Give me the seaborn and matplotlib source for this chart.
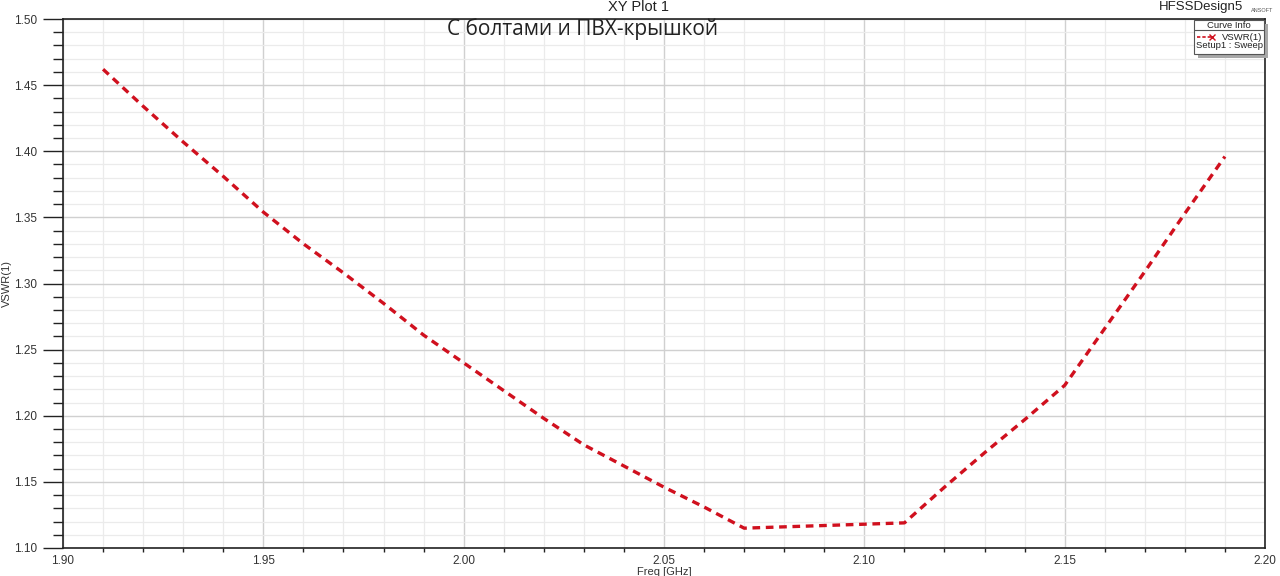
import numpy as np
import pandas as pd
import matplotlib
matplotlib.use("Agg")
import matplotlib.pyplot as plt
from matplotlib.ticker import MultipleLocator, FormatStrFormatter
from matplotlib.patches import Rectangle
from matplotlib.lines import Line2D
import seaborn as sns

# data
freq_ghz = [1.91, 1.92, 1.93, 1.94, 1.95, 1.96, 1.97, 1.98, 1.99, 2.00,
            2.01, 2.02, 2.03, 2.04, 2.05, 2.06, 2.07, 2.08, 2.09, 2.10,
            2.11, 2.12, 2.13, 2.14, 2.15, 2.16, 2.17, 2.18, 2.19]
vswr = [1.462, 1.434, 1.407, 1.381, 1.354, 1.330, 1.308, 1.285, 1.261, 1.240,
        1.219, 1.198, 1.178, 1.162, 1.146, 1.131, 1.115, 1.116, 1.117, 1.118,
        1.119, 1.146, 1.172, 1.197, 1.223, 1.266, 1.309, 1.353, 1.396]

curve_name = "VSWR(1)"
setup_name = "Setup1 : Sweep"
plot_title = "XY Plot 1"
subtitle = "С болтами и ПВХ-крышкой"
design_name = "HFSSDesign5"

sns.set_style("white")
plt.rcParams['font.family'] = ['Liberation Sans', 'DejaVu Sans']

W, H = 1280, 576
fig = plt.figure(figsize=(W / 100, H / 100), dpi=100)
ax = fig.add_axes([63 / W, 1 - 548 / H, 1202 / W, 529 / H])

df = pd.DataFrame({"freq": freq_ghz, "vswr": vswr})
red = "#d0101e"
sns.lineplot(data=df, x="freq", y="vswr", ax=ax, color=red, lw=2.4,
             linestyle=(0, (2.3, 1.7)), zorder=3)

ax.set_xlim(1.90, 2.20)
ax.set_ylim(1.10, 1.50)
ax.xaxis.set_major_locator(MultipleLocator(0.05))
ax.xaxis.set_minor_locator(MultipleLocator(0.01))
ax.yaxis.set_major_locator(MultipleLocator(0.05))
ax.yaxis.set_minor_locator(MultipleLocator(0.01))
ax.xaxis.set_major_formatter(FormatStrFormatter("%.2f"))
ax.yaxis.set_major_formatter(FormatStrFormatter("%.2f"))

ax.grid(True, which="major", color="#d0d0d0", lw=1.0, zorder=0)
ax.grid(True, which="minor", color="#ebebeb", lw=0.9, zorder=0)
ax.set_axisbelow(True)

for s in ax.spines.values():
    s.set_color("#222222")
    s.set_linewidth(1.2)

ax.tick_params(axis="y", which="major", direction="out", length=14.4, width=1,
               color="#222222", pad=4, labelsize=8.5, labelcolor="#333333")
ax.tick_params(axis="y", which="minor", direction="out", length=7.2, width=1,
               color="#222222")
ax.tick_params(axis="x", which="major", direction="out", length=0, pad=5,
               labelsize=8.5, labelcolor="#333333")
ax.tick_params(axis="x", which="minor", direction="out", length=3, width=1,
               color="#222222")
ax.tick_params(left=True, bottom=True, which="both")

ax.set_xlabel("Freq [GHz]", fontsize=8, color="#333333")
ax.set_ylabel(curve_name, fontsize=8, color="#333333")
ax.xaxis.set_label_coords(0.5, -0.036)
ax.yaxis.set_label_coords(-0.0424, 0.5)

# titles
fig.text(638 / W, 1 - 7 / H, plot_title, ha="center", va="center",
         fontsize=10.5, color="#222222")
fig.text(583 / W, 1 - 29 / H, subtitle, ha="center", va="center",
         fontsize=15, color="#222222", family=["Open Sans", "DejaVu Sans"])
fig.text(1243 / W, 1 - 7 / H, design_name, ha="right", va="center",
         fontsize=9.5, color="#222222")
fig.text(1262 / W, 1 - 10 / H, "ANSOFT", ha="center", va="center",
         fontsize=4, color="#555555")

# curve info box
bx0, bx1, by0, by1 = 1194, 1264, 20, 54
fig.add_artist(Rectangle(((bx0 + 4) / W, 1 - (by1 + 4) / H), (bx1 - bx0) / W,
                         (by1 - by0) / H, transform=fig.transFigure,
                         facecolor="#a8a8a8", edgecolor="none", zorder=5))
fig.add_artist(Rectangle((bx0 / W, 1 - by1 / H), (bx1 - bx0) / W,
                         (by1 - by0) / H, transform=fig.transFigure,
                         facecolor="white", edgecolor="#555555", lw=0.8, zorder=6))
fig.add_artist(Line2D([bx0 / W, bx1 / W], [1 - 30 / H, 1 - 30 / H],
                      transform=fig.transFigure, color="#555555", lw=0.8, zorder=7))
fig.text((bx0 + bx1) / 2 / W, 1 - 25 / H, "Curve Info", ha="center", va="center",
         fontsize=6.8, color="#222222", zorder=8)
fig.add_artist(Line2D([1197 / W, 1212 / W], [1 - 37 / H, 1 - 37 / H],
                      transform=fig.transFigure, color=red, lw=1.2,
                      linestyle=(0, (2, 1.2)), marker="x", markevery=[1],
                      markersize=4, zorder=8))
fig.text(1262 / W, 1 - 37 / H, curve_name, ha="right", va="center",
         fontsize=6.8, color="#222222", zorder=8)
fig.text(1196 / W, 1 - 46 / H, setup_name, ha="left", va="center",
         fontsize=6.8, color="#222222", zorder=8)

fig.savefig("out.png", dpi=100, facecolor="white")
